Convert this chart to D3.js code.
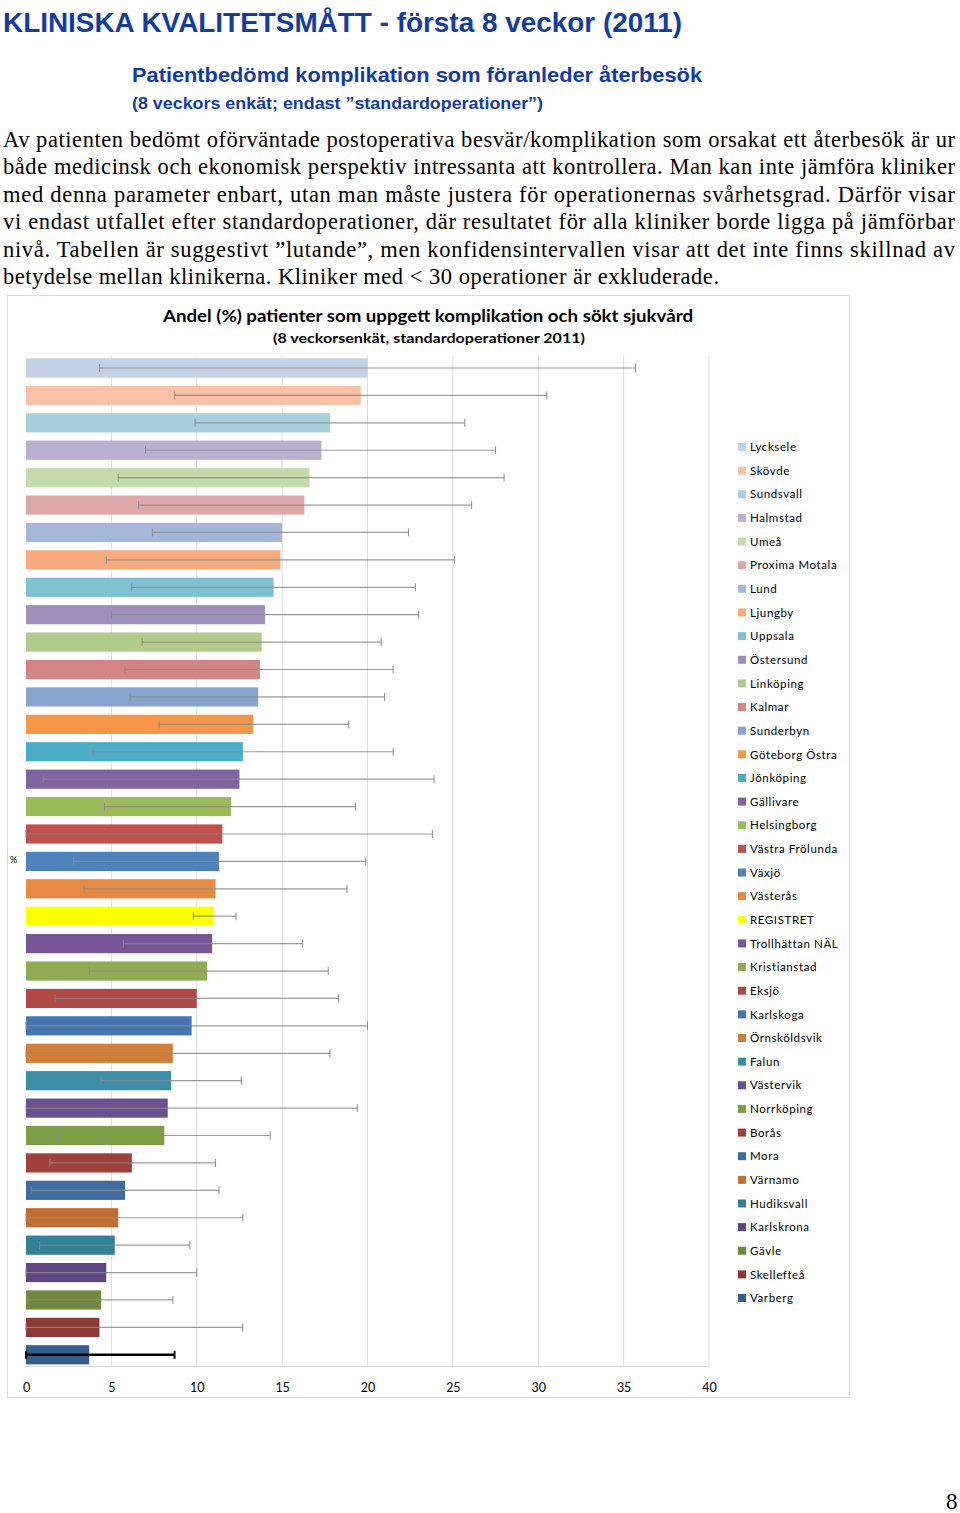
<!DOCTYPE html>
<html>
<head>
<meta charset="utf-8">
<script src="https://cdn.jsdelivr.net/npm/d3@7"></script>
<style>
  html, body { margin: 0; padding: 0; background: #ffffff; }
  svg { display: block; }
</style>
</head>
<body>
<svg id="page" width="960" height="1513"></svg>
<script>
// ---- DATA ----
const clinics = ["Lycksele","Skövde","Sundsvall","Halmstad","Umeå","Proxima Motala","Lund","Ljungby","Uppsala","Östersund","Linköping","Kalmar","Sunderbyn","Göteborg Östra","Jönköping","Gällivare","Helsingborg","Västra Frölunda","Växjö","Västerås","REGISTRET","Trollhättan NÄL","Kristianstad","Eksjö","Karlskoga","Örnsköldsvik","Falun","Västervik","Norrköping","Borås","Mora","Värnamo","Hudiksvall","Karlskrona","Gävle","Skellefteå","Varberg"];
const values = [20.0,19.6,17.8,17.3,16.6,16.3,15.0,14.9,14.5,14.0,13.8,13.7,13.6,13.3,12.7,12.5,12.0,11.5,11.3,11.1,11.0,10.9,10.6,10.0,9.7,8.6,8.5,8.3,8.1,6.2,5.8,5.4,5.2,4.7,4.4,4.3,3.7];
const ciLow = [4.3,8.7,9.9,7.0,5.4,6.6,7.4,4.7,6.2,5.0,6.8,5.8,6.1,7.8,3.9,1.0,4.6,0.0,2.8,3.4,9.8,5.7,3.7,1.7,0.0,0.0,4.4,0.0,1.9,1.4,0.3,0.0,0.8,0.0,0.1,0.0,0.0];
const ciHigh = [35.7,30.5,25.7,27.5,28.0,26.1,22.4,25.1,22.8,23.0,20.8,21.5,21.0,18.9,21.5,23.9,19.3,23.8,19.9,18.8,12.3,16.2,17.7,18.3,20.0,17.8,12.6,19.4,14.3,11.1,11.3,12.7,9.6,10.0,8.6,12.7,8.7];
const colors = ["#c3cfe3","#f9c1a6","#a7d0de","#bbafcf","#c6daa9","#dea8a8","#a5b8db","#f7aa7e","#7fc0d3","#a08fbd","#b1cc8a","#d38585","#87a3cf","#f79646","#4bacc6","#8064a2","#9bbb59","#c0504d","#4f81bd","#e88b42","#ffff00","#775597","#8fac55","#b04845","#4676b1","#d37e38","#3a8fa6","#6b4f8e","#7f9b45","#a13f3d","#3f6ba4","#c26e31","#328197","#5f4581","#6f8a3e","#8e3836","#365d90"];
const xTicks = [0,5,10,15,20,25,30,35,40];
const header = "KLINISKA KVALITETSMÅTT - första 8 veckor (2011)";
const subHeader = "Patientbedömd komplikation som föranleder återbesök";
const subHeader2 = "(8 veckors enkät; endast ”standardoperationer”)";
const paragraph = [
  "Av patienten bedömt oförväntade postoperativa besvär/komplikation som orsakat ett återbesök är ur",
  "både medicinsk och ekonomisk perspektiv intressanta att kontrollera. Man kan inte jämföra kliniker",
  "med denna parameter enbart, utan man måste justera för operationernas svårhetsgrad. Därför visar",
  "vi endast utfallet efter standardoperationer, där resultatet för alla kliniker borde ligga på jämförbar",
  "nivå. Tabellen är suggestivt ”lutande”, men konfidensintervallen visar att det inte finns skillnad av",
  "betydelse mellan klinikerna. Kliniker med < 30 operationer är exkluderade."
];
const chartTitle = "Andel (%) patienter som uppgett komplikation och sökt sjukvård";
const chartSubtitle = "(8 veckorsenkät, standardoperationer 2011)";

// ---- DRAWING ----
const svg = d3.select("#page");
const blue = "#123d9e";
const sans = "'Liberation Sans', Arial, sans-serif";
const serif = "'Liberation Serif', 'Times New Roman', serif";
const chartFont = "Lato, 'Open Sans', sans-serif";

svg.append("text").attr("x", 3).attr("y", 32)
  .attr("font-family", sans).attr("font-weight", "bold")
  .attr("font-size", 27).attr("fill", blue)
  .attr("textLength", 679).attr("lengthAdjust", "spacingAndGlyphs")
  .text(header);
svg.append("text").attr("x", 132).attr("y", 82)
  .attr("font-family", sans).attr("font-weight", "bold")
  .attr("font-size", 21).attr("fill", blue)
  .attr("textLength", 570).attr("lengthAdjust", "spacingAndGlyphs")
  .text(subHeader);
svg.append("text").attr("x", 132).attr("y", 109)
  .attr("font-family", sans).attr("font-weight", "bold")
  .attr("font-size", 17).attr("fill", blue)
  .attr("textLength", 411).attr("lengthAdjust", "spacingAndGlyphs")
  .text(subHeader2);

paragraph.forEach((line, i) => {
  const t = svg.append("text").attr("x", 3).attr("y", 147 + i * 27.4)
    .attr("font-family", serif)
    .attr("font-size", 22.5).attr("fill", "#000")
    .text(line);
  if (i < paragraph.length - 1) t.attr("textLength", 952).attr("lengthAdjust", "spacing");
  else t.attr("textLength", 716).attr("lengthAdjust", "spacing");
});

// chart frame
svg.append("rect").attr("x", 7.5).attr("y", 295.5).attr("width", 842).attr("height", 1102)
  .attr("fill", "#fff").attr("stroke", "#d9d9d9").attr("stroke-width", 1);

svg.append("text").attr("x", 428).attr("y", 322).attr("text-anchor", "middle")
  .attr("font-family", chartFont).attr("font-weight", "bold")
  .attr("font-size", 17).attr("fill", "#000")
  .attr("textLength", 530).attr("lengthAdjust", "spacingAndGlyphs")
  .text(chartTitle);
svg.append("text").attr("x", 429).attr("y", 343).attr("text-anchor", "middle")
  .attr("font-family", chartFont).attr("font-weight", "bold")
  .attr("font-size", 14).attr("fill", "#000")
  .attr("textLength", 312).attr("lengthAdjust", "spacingAndGlyphs")
  .text(chartSubtitle);

const x = d3.scaleLinear().domain([0, 40]).range([26, 709]);
const y = d3.scaleBand().domain(clinics).range([354.3, 1368.5]).paddingInner(0.3).paddingOuter(0.15);

// gridlines
const g = svg.append("g");
g.selectAll("line.grid").data(xTicks.slice(1)).join("line")
  .attr("class", "grid")
  .attr("x1", d => x(d)).attr("x2", d => x(d))
  .attr("y1", 356).attr("y2", 1366)
  .attr("stroke", "#dcdcdc").attr("stroke-width", 1);
g.append("line").attr("x1", x(0)).attr("x2", x(40)).attr("y1", 1366.5).attr("y2", 1366.5)
  .attr("stroke", "#d9d9d9").attr("stroke-width", 1);

// axis labels
const axis = d3.axisBottom(x).tickValues(xTicks).tickSize(0).tickPadding(0).tickFormat(d3.format("d"));
const ax = svg.append("g").attr("transform", "translate(0,1383)").call(axis);
ax.select(".domain").remove();
ax.selectAll("text").attr("font-family", chartFont).attr("font-size", 12.5).attr("fill", "#000");

// bars
g.selectAll("rect.bar").data(clinics).join("rect")
  .attr("class", "bar")
  .attr("x", x(0)).attr("y", d => y(d))
  .attr("width", (d, i) => x(values[i]) - x(0))
  .attr("height", y.bandwidth())
  .attr("fill", (d, i) => colors[i]);

// error bars
const eb = g.selectAll("g.err").data(clinics).join("g").attr("class", "err");
const isLast = i => i === clinics.length - 1;
eb.append("line")
  .attr("x1", (d, i) => x(ciLow[i])).attr("x2", (d, i) => x(ciHigh[i]))
  .attr("y1", d => y(d) + y.bandwidth() / 2).attr("y2", d => y(d) + y.bandwidth() / 2)
  .attr("stroke", (d, i) => isLast(i) ? "#000" : "#8a8a8a")
  .attr("stroke-opacity", (d, i) => isLast(i) ? 1 : 0.85)
  .attr("stroke-width", (d, i) => isLast(i) ? 2.5 : 1.2);
[ciLow, ciHigh].forEach(arr => {
  eb.append("line")
    .attr("x1", (d, i) => x(arr[i])).attr("x2", (d, i) => x(arr[i]))
    .attr("y1", d => y(d) + y.bandwidth() / 2 - 4).attr("y2", d => y(d) + y.bandwidth() / 2 + 4)
    .attr("stroke", (d, i) => isLast(i) ? "#000" : "#8a8a8a")
    .attr("stroke-width", (d, i) => isLast(i) ? 2 : 1);
});

// y axis title
svg.append("text").attr("x", 10).attr("y", 863)
  .attr("font-family", chartFont).attr("font-size", 9).attr("fill", "#000")
  .text("%");

// legend
const legend = svg.append("g");
const li = legend.selectAll("g").data(clinics).join("g")
  .attr("transform", (d, i) => `translate(738, ${447 + i * 23.64})`);
li.append("rect").attr("x", 0).attr("y", -4).attr("width", 8).attr("height", 8)
  .attr("fill", (d, i) => colors[i]);
li.append("text").attr("x", 12).attr("y", 4.2)
  .attr("font-family", chartFont).attr("font-size", 11.5)
  .attr("letter-spacing", 0.6).attr("fill", "#000")
  .text(d => d);

// page number
svg.append("text").attr("x", 946).attr("y", 1509)
  .attr("font-family", serif).attr("font-size", 23)
  .attr("fill", "#000").text("8");
</script>
</body>
</html>
